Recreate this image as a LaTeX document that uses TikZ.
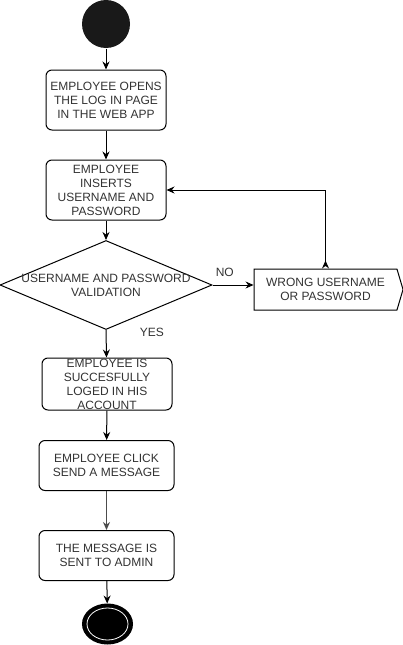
\documentclass[tikz,border=0pt]{standalone}
\usepackage{fontspec}
\setmainfont{Liberation Sans}
\usetikzlibrary{arrows.meta,shapes.geometric,shapes.symbols}

\begin{document}
\begin{tikzpicture}[x=1pt,y=-1pt,line width=1pt,
    >={Stealth[length=8pt,width=7pt]},
    every node/.style={font=\fontsize{12}{14}\selectfont,text=black!80},
    act/.style={draw,rounded corners=6pt,align=center,inner sep=0pt},
    flow/.style={->}]
  \useasboundingbox (0,0) rectangle (402,645);

  \node[circle,fill=black!90,minimum size=48pt,inner sep=0pt] (start) at (106,24) {};
  \node[act,minimum width=120pt,minimum height=60pt] (open) at (106,100)
    {EMPLOYEE OPENS\\THE LOG IN PAGE\\IN THE WEB APP};
  \node[act,minimum width=120pt,minimum height=60pt] (insert) at (106,190)
    {EMPLOYEE\\INSERTS\\USERNAME AND\\PASSWORD};
  \node[diamond,draw,minimum width=212pt,minimum height=89pt,inner sep=0pt,
    label={[align=center]center:USERNAME AND PASSWORD\\VALIDATION}] (valid) at (106,285) {};
  \node[signal,draw,signal to=east,signal pointer angle=147,minimum width=149pt,
    minimum height=41pt,inner sep=0pt,align=center] (wrong) at (325.5,289.5)
    {WRONG USERNAME\\OR PASSWORD};
  \node[act,minimum width=130pt,minimum height=52pt,
    label={[align=center]center:EMPLOYEE IS\\SUCCESFULLY\\LOGED IN HIS\\ACCOUNT}] (loged) at (107,384) {};
  \node[act,minimum width=135pt,minimum height=50pt] (click) at (106.5,465.5)
    {EMPLOYEE CLICK\\SEND A MESSAGE};
  \node[act,minimum width=135pt,minimum height=50pt] (sent) at (106.5,555.5)
    {THE MESSAGE IS\\SENT TO ADMIN};
  \node[ellipse,draw,line width=3pt,fill=black,minimum width=48pt,minimum height=38pt,
    inner sep=0pt] (stop) at (107.5,624) {};
  \draw[white,line width=0.8pt] (stop.center) ellipse [x radius=20.5pt,y radius=16pt];

  \draw[flow] (start) -- (open);
  \draw[flow] (open) -- (insert);
  \draw[flow] (insert) -- (valid);
  \draw[flow] (valid.east) -- (valid.east -| wrong.west) node[pos=0.3,above=5pt] {NO};
  \draw[{Stealth[length=8pt,width=7pt,reversed]}->] (wrong.north) |- (insert.east);
  \draw[flow] (valid.south) -- (loged) node[pos=0.1,right=30pt] {YES};
  \draw[flow] (loged) -- (click);
  \draw[flow,black!70] (click) -- (sent);
  \draw[flow] (sent) -- (stop);
\end{tikzpicture}
\end{document}
